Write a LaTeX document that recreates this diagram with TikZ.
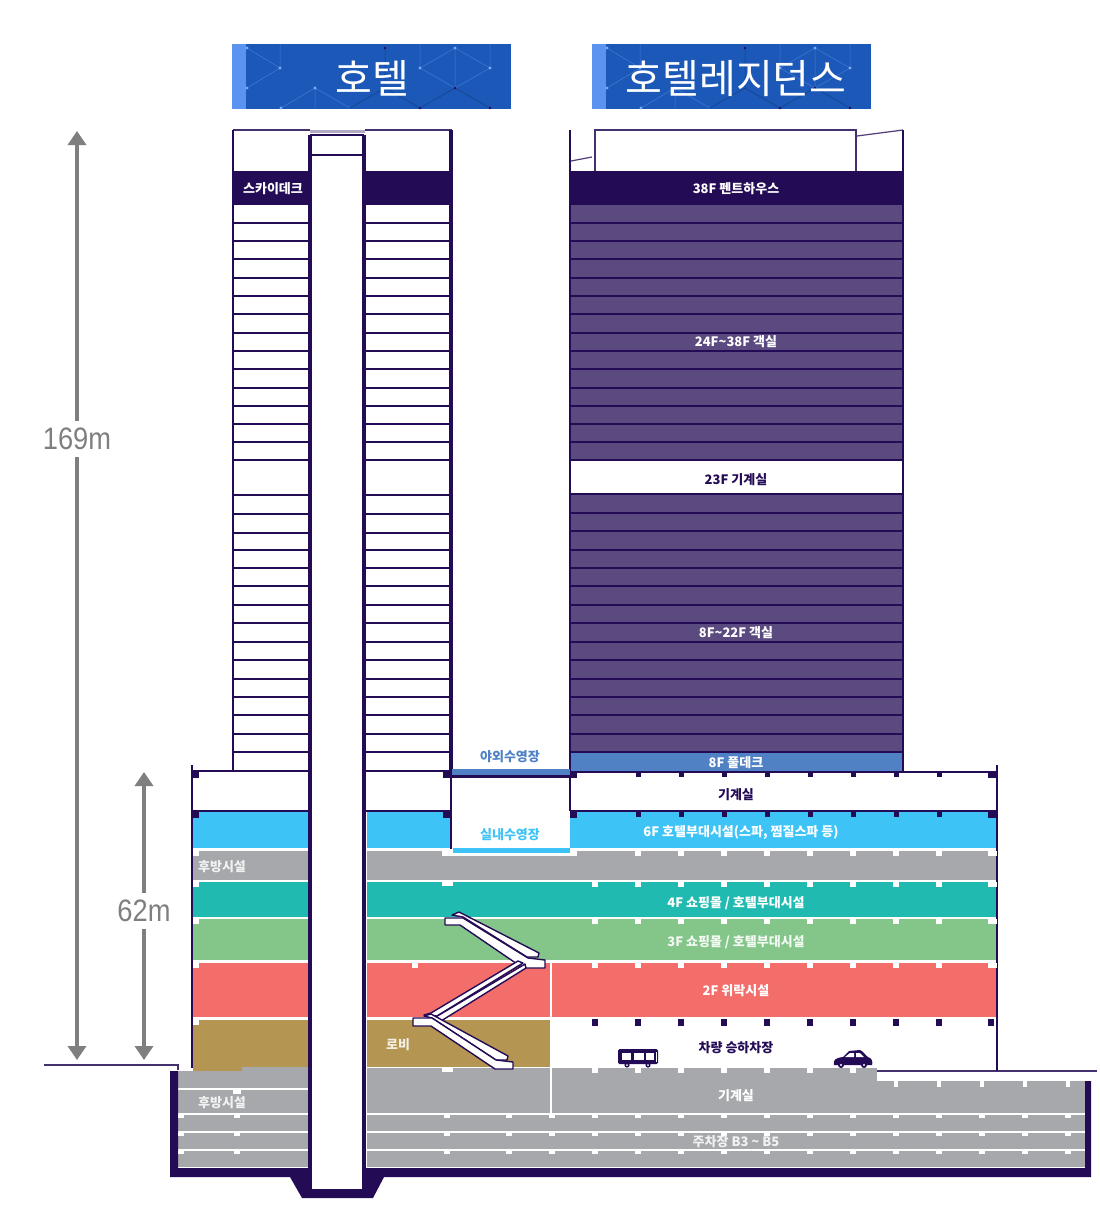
\documentclass[tikz,border=0pt]{standalone}
\usepackage{fontspec}
\newfontfamily\krfont{Noto Sans CJK KR}
\newfontfamily\dimfont[FakeStretch=0.88]{Liberation Sans}
\definecolor{darkc}{HTML}{240B55}
\definecolor{roomc}{HTML}{5B4A80}
\definecolor{deckc}{HTML}{4F81C4}
\definecolor{skyc}{HTML}{3EC3F6}
\definecolor{grayc}{HTML}{A6A8AB}
\definecolor{tealc}{HTML}{20BAB1}
\definecolor{greenc}{HTML}{84C58A}
\definecolor{redc}{HTML}{F36E6B}
\definecolor{brownc}{HTML}{B49552}
\definecolor{bannerc}{HTML}{1C58B8}
\definecolor{stripc}{HTML}{5B93F0}
\definecolor{dimc}{HTML}{7F7F7F}
\tikzset{
  title/.style={text=white,font=\krfont\fontsize{40}{40}\selectfont},
  tag/.style={text=white,yshift=-1pt,font=\krfont\bfseries\fontsize{13}{13}\selectfont},
  darktag/.style={tag,text=darkc},
  floorline/.style={darkc,line width=2.4pt},
  wall/.style={darkc,line width=3.4pt},
  thinwall/.style={darkc,line width=1.3pt},
  hole/.style={fill=white},
  dimline/.style={dimc,line width=3.5pt,-{Triangle[length=14pt,width=18pt]}},
  dimtext/.style={text=dimc,font=\dimfont\fontsize{31}{31}\selectfont,inner xsep=2pt,inner ysep=7pt},
  escal/.style={fill=white,draw=darkc,line width=1.4pt,line join=round},
}
\usetikzlibrary{arrows.meta}
\begin{document}
\begin{tikzpicture}[x=1pt,y=-1pt]
\useasboundingbox (0,0) rectangle (1100,1224);
\fill[white] (0,0) rectangle (1100,1224);

% 배너
\foreach \bx in {232,592}{
  \begin{scope}[shift={(\bx,0)}]
    \fill[bannerc] (0,44) rectangle (279,109);
    \fill[stripc] (0,44) rectangle (14,109);
    \draw[stripc!60!bannerc,line width=.5pt] (15,48) -- (48,68) -- (15,88) (48,44) -- (48,68)
      (49,108) -- (83,88) -- (118,108) (83,88) -- (83,108)
      (188,68) -- (223,48) -- (258,68) -- (223,88) -- cycle (223,48) -- (223,88) (188,44) -- (188,68) (258,44) -- (258,68);
    \draw[bannerc!70!black,line width=.5pt] (118,108) -- (153,88) -- (153,48) (153,88) -- (188,108) -- (223,88) -- (258,108);
    \foreach \dx/\dy in {15/48,48/68,15/88,83/88,49/108,188/68,223/48,258/68}
      \fill[stripc!80!white] (\dx,\dy) circle (1.6);
    \foreach \dx/\dy in {223/88,188/108,258/108,153/48}
      \fill[darkc] (\dx,\dy) circle (1.4);
  \end{scope}
}
\node[title] (hotelTitle) at (372,78.5) {호텔};
\node[title] (residTitle) at (736,78.5) {호텔레지던스};

% 레지던스 객실
\fill[darkc] (570,171) rectangle (903,205);
\fill[roomc] (570,205) rectangle (903,460);
\fill[roomc] (570,494) rectangle (903,752);
\fill[deckc] (570,752) rectangle (903,771);
\foreach \fy in {223,241,259,278,296,314,333,351,369,388,406,424,442,460,494,513,531,550,568,586,605,623,642,660,679,697,715,734,752}{
  \draw[floorline] (570,\fy) -- (903,\fy);
}
\draw[darkc,line width=2.4pt] (570,130) -- (570,771) (903,130) -- (903,771);
\draw[darkc!85!white,line width=1.1pt] (595,171) -- (595,130) -- (856,130) -- (856,171);
\draw[darkc!80!white,line width=1.2pt] (571,161) -- (592,157) (857,136) -- (903,130);

% 호텔 타워
\fill[darkc] (233,171) rectangle (309,205);
\fill[darkc] (365,171) rectangle (452,205);
\foreach \fy in {223,241,259,278,296,314,333,351,369,388,406,424,442,460,495,514,533,550,568,586,605,623,642,660,679,697,715,734,752}{
  \draw[floorline] (233,\fy) -- (309,\fy);
  \draw[floorline] (365,\fy) -- (452,\fy);
}
\draw[darkc!85!white,line width=1.2pt] (233,130) -- (310,130) (365,130) -- (452,130);
\draw[darkc,line width=2pt] (233,130) -- (233,771);
\draw[wall] (451,130) -- (451,771);

% 포디움 층
\foreach \ya/\yb/\col in {812/848/skyc,851/880/grayc,882/917/tealc,919/960/greenc,963/1017/redc,1020/1067/brownc}{
  \fill[\col] (193,\ya) rectangle (309,\yb);
  \fill[\col] (367,\ya) rectangle (997,\yb);
}
\fill[brownc] (193,1067) rectangle (242,1071);
\fill[hole] (452,812) rectangle (570,848);
\fill[skyc] (453,848) rectangle (570,853);
\fill[hole] (453,853) rectangle (570,856);
\fill[hole] (550,961) rectangle (552,1017);
\fill[hole] (550,1018) rectangle (997,1069);

% 지하층
\fill[grayc] (178,1071) rectangle (309,1167);
\fill[grayc] (242,1067) rectangle (309,1071);
\fill[grayc] (367,1068) rectangle (1085,1167);
\fill[hole] (877,1068) rectangle (1085,1081);
\fill[hole] (550,1068) rectangle (552,1113);
\foreach \fy in {1089,1114,1132,1150}{
  \draw[white,line width=1.6pt] (178,\fy) -- (309,\fy);
}
\foreach \fy in {1114,1132,1150}{
  \draw[white,line width=1.6pt] (367,\fy) -- (1085,\fy);
}

% 옹벽
\fill[darkc] (170,1071) -- (178,1071) -- (178,1168) -- (1085,1168) -- (1085,1081) -- (1091,1081) -- (1091,1177) -- (384,1177) -- (373,1198) -- (302,1198) -- (290,1177) -- (170,1177) -- cycle;
\draw[darkc!85!white,line width=1.2pt] (44,1065) -- (178,1065) -- (178,1070);
\draw[darkc!85!white,line width=1.2pt] (877,1071) -- (1097,1071);
\draw[thinwall] (997,765) -- (997,1071);
\draw[thinwall] (192,765) -- (192,1068);

% 코어
\fill[hole] (310,130) rectangle (364,1189);
\fill[darkc!35!white] (310,130) rectangle (365,133);
\draw[wall] (310,135) -- (310,1189);
\draw[wall] (364,135) -- (364,1189);
\draw[floorline] (310,135) -- (364,135);
\draw[floorline] (310,155) -- (364,155);

% 수영장과 기계실
\fill[hole] (193,773) rectangle (308,811);
\fill[hole] (367,773) rectangle (450,811);
\fill[hole] (571,773) rectangle (996,811);
\fill[deckc] (452,769) rectangle (570,775);
\fill[darkc] (452,775) rectangle (570,778);
\draw[floorline] (192,771) -- (309,771);
\draw[floorline] (365,771) -- (452,771);
\draw[floorline] (570,772) -- (997,772);
\draw[floorline] (192,811) -- (309,811);
\draw[floorline] (365,811) -- (452,811);
\draw[floorline] (570,811) -- (997,811);
\draw[darkc,line width=2pt] (451,771) -- (451,849);
\draw[darkc,line width=2.4pt] (570,776) -- (570,811);

% 기둥 표시
\foreach \ty in {772,812}{
  \foreach \tx in {638,681,724,767,810,853,896,939}{
    \fill[darkc] (\tx-2.5,\ty) rectangle +(5,5);
  }
  \fill[darkc] (988,\ty) rectangle (996,\ty+6);
  \fill[darkc] (570,\ty) rectangle (577,\ty+6);
  \fill[darkc] (193,\ty) rectangle (199,\ty+6);
  \fill[darkc] (443,\ty) rectangle (451,\ty+6);
}
\foreach \tx in {595,638,681,724,767,810,853,896,939,991}{
  \fill[darkc] (\tx-3,1019) rectangle +(6,7);
}
\foreach \ty in {851,882,919,963}{
  \foreach \tx in {638,681,724,767,810,853,896,939}{
    \fill[white] (\tx-3,\ty) rectangle +(6,5);
  }
  \fill[white] (988,\ty) rectangle (997,\ty+5);
  \fill[white] (193,\ty) rectangle (199,\ty+5);
}
\foreach \ty in {882,919,963}{
  \fill[white] (592,\ty) rectangle +(6,5);
}
\fill[white] (193,1020) rectangle (199,1025);
\fill[white] (442,851) rectangle (453,856);
\fill[white] (570,851) rectangle (577,856);
\fill[white] (442,882) rectangle (453,886);
\fill[white] (412,963) rectangle (418,968);
\fill[white] (442,1068) rectangle (453,1072);
\foreach \tx in {595,638,681,724,767,810,853}{
  \fill[white] (\tx-3,1068) rectangle +(6,5);
}
\foreach \tx in {896,939,982,1025,1068}{
  \fill[white] (\tx-2,1081) rectangle +(4,6);
}
\foreach \ty in {1115,1133,1151}{
  \foreach \tx in {181,237,447,509,552,595,638,681,724,767,810,853,896,939,982,1025,1068}{
    \fill[white] (\tx-3,\ty) rectangle +(6,3);
  }
}
\fill[white] (233,1090) rectangle +(8,4);

% 에스컬레이터
\draw[escal] (452,915) -- (459,912) -- (539,953) -- (538,957) -- (527,957) -- (463,917) -- cycle;
\draw[escal] (445,918) -- (463,918) -- (528,958) -- (545,960) -- (545,968) -- (523,968) -- (460,925) -- (445,925) -- cycle;
\draw[escal] (424,1015) -- (431,1013) -- (518,961) -- (523,963) -- (437,1016) -- cycle;
\draw[escal] (434,1018) -- (525,964) -- (526,968) -- (441,1021) -- cycle;
\draw[escal] (424,1016) -- (431,1014) -- (508,1056) -- (507,1060) -- (496,1060) -- (432,1018) -- cycle;
\draw[escal] (413,1018) -- (432,1018) -- (496,1060) -- (513,1062) -- (513,1069) -- (495,1069) -- (431,1026) -- (413,1026) -- cycle;

% 버스
\fill[darkc,rounded corners=1.5pt] (618,1049) rectangle (658,1064);
\foreach \wx/\wd in {622/9,634/10,646/8}{
  \fill[white] (\wx,1053) rectangle +(\wd,7);
}
\fill[white] (656,1052) rectangle +(1,10);
\foreach \wx in {627,648}{
  \fill[darkc] (\wx,1065) circle (2.6);
  \fill[white] (\wx,1065) circle (1);
}

% 승용차
\fill[darkc] (834,1065) .. controls (833,1060) and (835,1058) .. (843,1057) -- (849,1051) -- (860,1050) .. controls (863,1051) and (866,1056) .. (868,1057) .. controls (872,1058) and (873,1062) .. (872,1065) -- cycle;
\fill[white] (845,1057) -- (850,1053) -- (854,1053) -- (854,1057) -- cycle;
\fill[white] (856,1053) -- (860,1053) -- (864,1057) -- (856,1057) -- cycle;
\foreach \wx in {841,864}{
  \fill[darkc] (\wx,1065) circle (3);
  \fill[white] (\wx,1065) circle (1.1);
}

% 치수
\node[dimtext] (dimA) at (77,439) {169m};
\node[dimtext] (dimB) at (144,911) {62m};
\coordinate (dimAtop) at (76,131);
\coordinate (dimAbot) at (76,1060);
\coordinate (dimBtop) at (143,772);
\coordinate (dimBbot) at (143,1060);
\draw[dimline] (dimA) -- (dimA|-dimAtop);
\draw[dimline] (dimA) -- (dimA|-dimAbot);
\draw[dimline] (dimB) -- (dimB|-dimBtop);
\draw[dimline] (dimB) -- (dimB|-dimBbot);

% 층 이름
\node[tag] (skydeck) at (273,188) {스카이데크};
\node[tag] (penthouse) at (736,188) {38F 펜트하우스};
\node[tag] (roomsUp) at (736,341) {24F\textasciitilde38F 객실};
\node[darktag] (mechA) at (736,479) {23F 기계실};
\node[tag] (roomsLow) at (736,632) {8F\textasciitilde22F 객실};
\node[tag] (pooldeck) at (736,762) {8F 풀데크};
\node[tag,text=deckc] (poolOut) at (510,756) {야외수영장};
\node[darktag] (mechB) at (736,794) {기계실};
\node[tag,text=skyc] (poolIn) at (510,834) {실내수영장};
\node[tag] (spa) at (741,831) {6F 호텔부대시설(스파, 찜질스파 등)};
\node[tag,text=white!85!grayc] (backA) at (222,866) {후방시설};
\node[tag] (mallA) at (736,902) {4F 쇼핑몰 / 호텔부대시설};
\node[tag,text=white!90!greenc] (mallB) at (736,941) {3F 쇼핑몰 / 호텔부대시설};
\node[tag] (leisure) at (736,990) {2F 위락시설};
\node[darktag] (dropoff) at (736,1047) {차량 승하차장};
\node[tag,text=white!85!brownc] (lobby) at (398,1044) {로비};
\node[tag,text=white!85!grayc] (backB) at (222,1102) {후방시설};
\node[tag] (mechC) at (736,1095) {기계실};
\node[tag,text=white!85!grayc] (parking) at (736,1141) {주차장 B3 \textasciitilde\ B5};
\end{tikzpicture}
\end{document}
